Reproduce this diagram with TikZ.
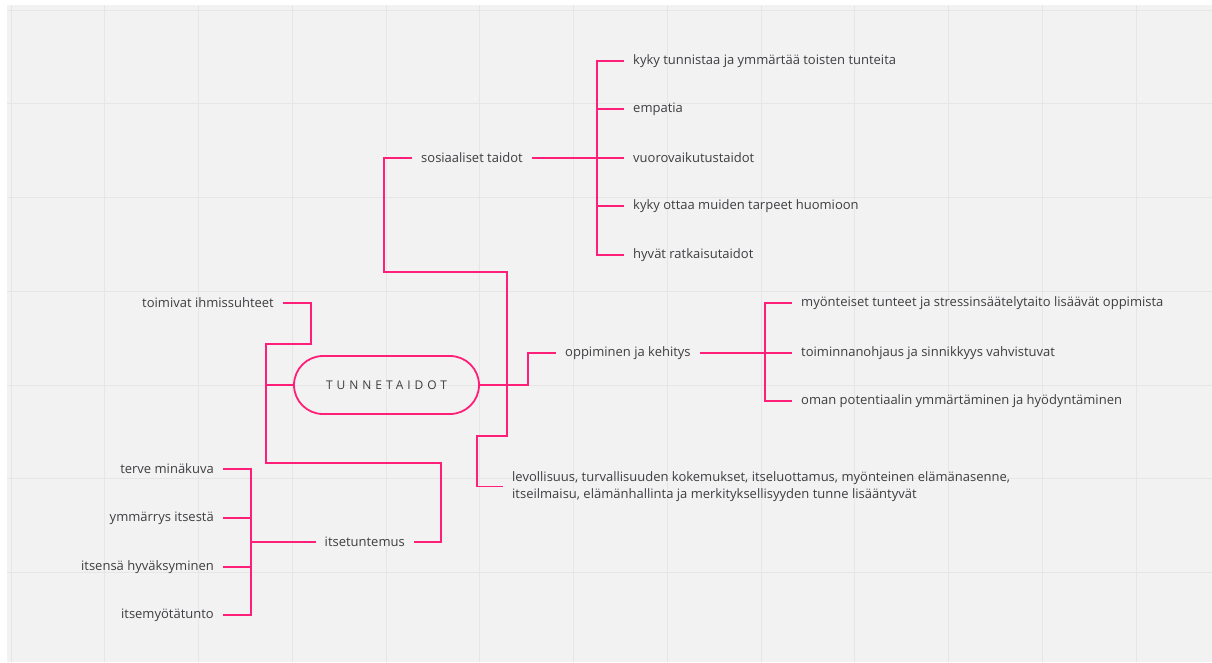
\documentclass[tikz,border=0pt]{standalone}
\usepackage{fontspec}
\setmainfont{Open Sans}
\newfontfamily\spacedfont[LetterSpace=33]{Open Sans}
\definecolor{Canvas}{RGB}{242,242,242}
\definecolor{GridGray}{RGB}{230,230,230}
\definecolor{Magenta}{RGB}{255,30,120}
\definecolor{Ink}{RGB}{62,62,66}
\tikzset{
  idea/.style={font=\fontsize{13}{17}\selectfont,text=Ink,inner xsep=9pt,inner ysep=2pt},
  leaf/.style={idea,anchor=west},
  leafL/.style={idea,anchor=east},
  pill/.style={draw=Magenta,line width=1.8pt,rounded corners=29pt,minimum width=185pt,minimum height=58pt,text=Ink,font=\spacedfont\fontsize{12}{14}\selectfont},
  branch/.style={draw=Magenta,line width=1.8pt},
  stem/.style={draw=Magenta,line width=2.6pt}
}
\begin{document}
\begin{tikzpicture}[x=1pt,y=-1pt]
  \useasboundingbox (0,0) rectangle (1212,662);
  \fill[Canvas] (7,5) rectangle (1212,662);
  \foreach \k in {0,...,12}
    \draw[GridGray,line width=1pt] (11+93.75*\k,5) -- (11+93.75*\k,662);
  \foreach \k in {0,...,6}
    \draw[GridGray,line width=1pt] (7,10+93.75*\k) -- (1212,10+93.75*\k);

  \node[pill] (root) at (386.5,385) {TUNNETAIDOT};

  \node[leaf] (sos) at (412,158) {sosiaaliset taidot};
  \node[leaf] (s1) at (624,61) {kyky tunnistaa ja ymmärtää toisten tunteita};
  \node[leaf] (s2) at (624,109) {empatia};
  \node[leaf] (s3) at (624,158) {vuorovaikutustaidot};
  \node[leaf] (s4) at (624,206) {kyky ottaa muiden tarpeet huomioon};
  \node[leaf] (s5) at (624,255) {hyvät ratkaisutaidot};

  \node[leaf] (opp) at (556,353) {oppiminen ja kehitys};
  \node[leaf] (o1) at (792,303) {myönteiset tunteet ja stressinsäätelytaito lisäävät oppimista};
  \node[leaf] (o2) at (792,353) {toiminnanohjaus ja sinnikkyys vahvistuvat};
  \node[leaf] (o3) at (792,401) {oman potentiaalin ymmärtäminen ja hyödyntäminen};

  \node[leaf,align=left] (lev) at (503,486.5) {levollisuus, turvallisuuden kokemukset, itseluottamus, myönteinen elämänasenne,\\itseilmaisu, elämänhallinta ja merkityksellisyyden tunne lisääntyvät};

  \node[leafL] (toim) at (283,303) {toimivat ihmissuhteet};
  \node[leafL] (itu) at (414,542) {itsetuntemus};
  \node[leafL] (i1) at (223,469) {terve minäkuva};
  \node[leafL] (i2) at (223,518) {ymmärrys itsestä};
  \node[leafL] (i3) at (223,567) {itsensä hyväksyminen};
  \node[leafL] (i4) at (223,615) {itsemyötätunto};

  \coordinate (sosJ) at (597,158);
  \coordinate (oppJ) at (765,353);
  \coordinate (ituJ) at (251,542);

  \draw[branch] (root.east) -| (507,272) -| (384,158) -- (sos.west);
  \draw[branch] (root.east) -| (507,436) -| (477,486.5) -- (lev.west);
  \draw[branch] (root.east) -| (528,353) -- (opp.west);
  \draw[branch] (root.west) -| (266,344) -| (311,303) -- (toim.east);
  \draw[branch] (root.west) -| (266,463) -| (441,542) -- (itu.east);

  \draw[stem] (sos.east) -- (sosJ);
  \foreach \i in {1,...,5}
    \draw[branch] (sosJ) |- (s\i.west);
  \draw[stem] (opp.east) -- (oppJ);
  \foreach \i in {1,...,3}
    \draw[branch] (oppJ) |- (o\i.west);
  \draw[stem] (itu.west) -- (ituJ);
  \foreach \i in {1,...,4}
    \draw[branch] (ituJ) |- (i\i.east);
\end{tikzpicture}
\end{document}
